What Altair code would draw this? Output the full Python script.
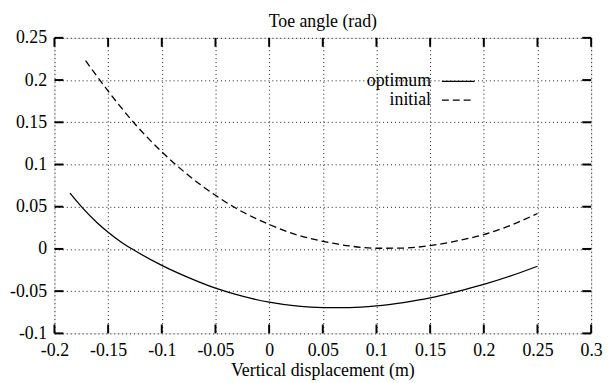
import altair as alt
import pandas as pd

# optimum curve (solid)
opt_x = [-0.1855, -0.1745, -0.16, -0.15, -0.138, -0.126, -0.1, -0.075, -0.05, -0.025, 0.0, 0.025,
         0.05, 0.075, 0.1, 0.125, 0.15, 0.175, 0.2, 0.225, 0.25]
opt_y = [0.066, 0.0495, 0.0307, 0.0197, 0.0083, -0.0013, -0.0195, -0.034, -0.0465, -0.056, -0.063,
         -0.0675, -0.0695, -0.0695, -0.0675, -0.0635, -0.058, -0.0505, -0.042, -0.032, -0.0205]

# initial curve (dashed)
init_x = [-0.171, -0.15, -0.125, -0.1, -0.075, -0.05, -0.025, 0.0, 0.025, 0.05,
          0.075, 0.1, 0.125, 0.15, 0.175, 0.2, 0.225, 0.25]
init_y = [0.223, 0.187, 0.148, 0.115, 0.087, 0.0635, 0.044, 0.029, 0.017, 0.009,
          0.0035, 0.0008, 0.001, 0.004, 0.0095, 0.017, 0.028, 0.042]

x_ticks = [-0.2, -0.15, -0.1, -0.05, 0.0, 0.05, 0.1, 0.15, 0.2, 0.25, 0.3]
y_ticks = [-0.1, -0.05, 0.0, 0.05, 0.1, 0.15, 0.2, 0.25]

legend_labels = ["optimum", "initial"]
title_text = ["Toe angle (rad)"]
xtitle_text = ["Vertical displacement (m)"]

W, H = 543, 299
FONT = "Liberation Serif"
FS = 18

opt_df = pd.DataFrame({"x": opt_x, "y": opt_y})
init_df = pd.DataFrame({"x": init_x, "y": init_y})
xt_df = pd.DataFrame({"x": x_ticks})
yt_df = pd.DataFrame({"y": y_ticks})

xscale = alt.Scale(domain=[-0.2, 0.3], nice=False, zero=False)
yscale = alt.Scale(domain=[-0.1, 0.25], nice=False, zero=False)

hyphen_labels = "replace(datum.label, '\u2212', '-')"
grid_kw = dict(domain=False, ticks=False, grid=True, gridColor="black", gridDash=[1, 3],
               gridWidth=1, gridOpacity=0.9, labelFlush=False, title=None,
               labelFont=FONT, labelFontSize=FS, labelColor="black", labelExpr=hyphen_labels)
xaxis = alt.Axis(values=x_ticks, format="~g", labelPadding=8, **grid_kw)
yaxis = alt.Axis(values=y_ticks, format="~g", labelPadding=8, **grid_kw)

opt_line = alt.Chart(opt_df).mark_line(color="black", strokeWidth=1.3, interpolate="monotone").encode(
    x=alt.X("x:Q", scale=xscale, axis=xaxis),
    y=alt.Y("y:Q", scale=yscale, axis=yaxis),
)
init_line = alt.Chart(init_df).mark_line(color="black", strokeWidth=1.3, strokeDash=[7, 4],
                                         interpolate="monotone").encode(
    x=alt.X("x:Q", scale=xscale),
    y=alt.Y("y:Q", scale=yscale),
)

tick_len = 9
bottom_ticks = alt.Chart(xt_df).mark_rule(color="black", strokeWidth=2).encode(
    x=alt.X("x:Q", scale=xscale), y=alt.value(H), y2=alt.value(H - tick_len))
top_ticks = alt.Chart(xt_df).mark_rule(color="black", strokeWidth=2).encode(
    x=alt.X("x:Q", scale=xscale), y=alt.value(0), y2=alt.value(tick_len))
left_ticks = alt.Chart(yt_df).mark_rule(color="black", strokeWidth=2).encode(
    y=alt.Y("y:Q", scale=yscale), x=alt.value(0), x2=alt.value(tick_len))
right_ticks = alt.Chart(yt_df).mark_rule(color="black", strokeWidth=2).encode(
    y=alt.Y("y:Q", scale=yscale), x=alt.value(W), x2=alt.value(W - tick_len))

title_mark = alt.Chart(pd.DataFrame({"t": title_text})).mark_text(
    font=FONT, fontSize=FS, align="center", baseline="alphabetic", color="black").encode(
    text="t:N", x=alt.value(W / 2), y=alt.value(-11))
xtitle_mark = alt.Chart(pd.DataFrame({"t": xtitle_text})).mark_text(
    font=FONT, fontSize=FS, align="center", baseline="alphabetic", color="black").encode(
    text="t:N", x=alt.value(W / 2), y=alt.value(H + 43))

leg_text_opt = alt.Chart(pd.DataFrame({"label": [legend_labels[0]]})).mark_text(
    font=FONT, fontSize=FS, align="right", baseline="alphabetic", color="black").encode(
    text="label:N", x=alt.value(381), y=alt.value(49))
leg_text_init = alt.Chart(pd.DataFrame({"label": [legend_labels[1]]})).mark_text(
    font=FONT, fontSize=FS, align="right", baseline="alphabetic", color="black").encode(
    text="label:N", x=alt.value(381), y=alt.value(68))
leg_line_opt = alt.Chart(pd.DataFrame({"label": [legend_labels[0]]})).mark_rule(
    color="black", strokeWidth=1.3).encode(
    x=alt.value(392), x2=alt.value(425), y=alt.value(44))
leg_line_init = alt.Chart(pd.DataFrame({"label": [legend_labels[1]]})).mark_rule(
    color="black", strokeWidth=1.3, strokeDash=[7, 4]).encode(
    x=alt.value(392), x2=alt.value(425), y=alt.value(63))

chart = alt.layer(
    opt_line, init_line,
    bottom_ticks, top_ticks, left_ticks, right_ticks,
    title_mark, xtitle_mark,
    leg_text_opt, leg_text_init, leg_line_opt, leg_line_init,
).properties(
    width=W, height=H,
    autosize=alt.AutoSizeParams(type="none"),
    padding={"left": 47, "top": 28, "right": 13, "bottom": 47},
).configure_view(
    stroke="black", strokeWidth=2.5
).configure(background="white")

chart.save("out.html", embed_options={"renderer": "svg", "actions": False})
